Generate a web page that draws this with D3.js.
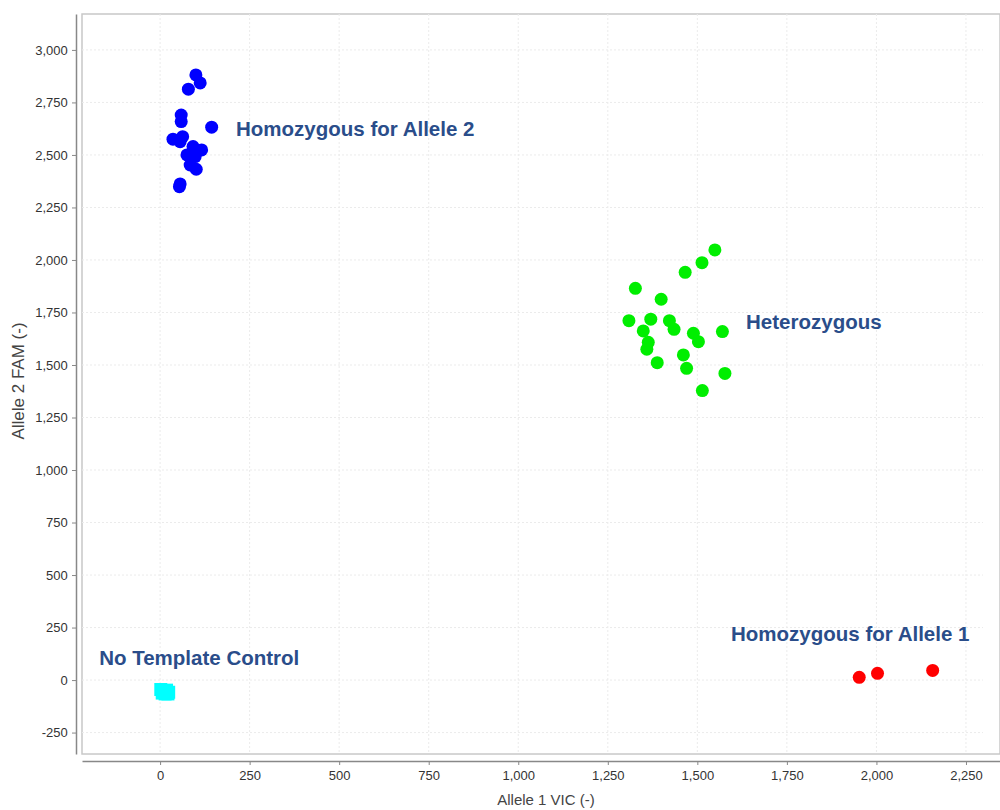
<!DOCTYPE html>
<html>
<head>
<meta charset="utf-8">
<script src="https://cdn.jsdelivr.net/npm/d3@7"></script>
<style>
  body { margin: 0; background: #fff; }
  svg { display: block; font-family: "Liberation Sans", Arial, sans-serif; }
</style>
</head>
<body>
<script>
// allele 1 (VIC) / allele 2 (FAM) readings per cluster
const allele2X = [100, 112, 79, 59, 59, 144, 36, 63, 56, 92, 116, 75, 98, 84, 101, 56, 54];
const allele2Y = [2881, 2843, 2813, 2690, 2659, 2632, 2575, 2587, 2563, 2540, 2524, 2500, 2492, 2452, 2432, 2362, 2349];

const heteroX = [1549, 1513, 1466, 1327, 1399, 1309, 1370, 1422, 1435, 1349, 1489, 1570, 1503, 1363, 1359, 1461, 1388, 1470, 1577, 1514];
const heteroY = [2048, 1987, 1941, 1865, 1813, 1711, 1718, 1711, 1670, 1662, 1651, 1659, 1611, 1608, 1575, 1548, 1511, 1484, 1460, 1378];

const allele1X = [1952, 2003, 2157];
const allele1Y = [13, 32, 46];

const ntcX = [2, 10, 18, 24, 14, 6, 22];
const ntcY = [-45, -52, -48, -58, -66, -62, -66];

const xTicks = [0, 250, 500, 750, 1000, 1250, 1500, 1750, 2000, 2250];
const yTicks = [-250, 0, 250, 500, 750, 1000, 1250, 1500, 1750, 2000, 2250, 2500, 2750, 3000];

const clusterLabels = ["Homozygous for Allele 2", "Heterozygous", "Homozygous for Allele 1", "No Template Control"];
const labelX = [212, 1636, 1594, -170];
const labelY = [2590, 1671, 186, 72];

(function chart() {
  let w = 1000, h = 810;
  let plot = { left: 82, right: 1000, top: 14, bottom: 754 };

  let svg = d3.select("body").append("svg")
    .attr("width", w)
    .attr("height", h);

  let x = d3.scaleLinear().domain([-218, 2345]).range([plot.left, plot.right]);
  let y = d3.scaleLinear().domain([-352, 3171]).range([plot.bottom, plot.top]);

  // plot background + border
  svg.append("rect")
    .attr("x", plot.left).attr("y", plot.top)
    .attr("width", plot.right - plot.left).attr("height", plot.bottom - plot.top)
    .attr("fill", "#fff")
    .attr("stroke", "#c8c8c8")
    .attr("stroke-width", 1.5);

  let grid = svg.append("g").attr("class", "grid");
  grid.selectAll("line.h")
    .data(yTicks)
    .enter().append("line")
    .attr("class", "h")
    .attr("x1", plot.left).attr("x2", 983)
    .attr("y1", d => y(d)).attr("y2", d => y(d))
    .attr("stroke", "#ebebeb")
    .attr("stroke-dasharray", "2,2");
  grid.selectAll("line.v")
    .data(xTicks)
    .enter().append("line")
    .attr("class", "v")
    .attr("y1", plot.top).attr("y2", plot.bottom)
    .attr("x1", d => x(d)).attr("x2", d => x(d))
    .attr("stroke", "#ebebeb")
    .attr("stroke-dasharray", "2,2");

  // axes, offset from plot area
  let fmt = d => d3.format(",")(d).replace("\u2212", "-");
  let xAxis = d3.axisBottom(x).tickValues(xTicks).tickSize(4).tickSizeOuter(0).tickFormat(fmt);
  let yAxis = d3.axisLeft(y).tickValues(yTicks).tickSize(4).tickSizeOuter(0).tickFormat(fmt);

  let gx = svg.append("g")
    .attr("transform", `translate(0,761)`)
    .call(xAxis);
  let gy = svg.append("g")
    .attr("transform", `translate(76,0)`)
    .call(yAxis);

  [gx, gy].forEach(g => {
    g.select(".domain").attr("stroke", "#888").attr("stroke-width", 1.5);
    g.selectAll(".tick line").attr("stroke", "#888");
    g.selectAll(".tick text")
      .attr("fill", "#333")
      .attr("font-size", 13)
      .attr("font-family", "Liberation Sans, Arial, sans-serif");
  });
  gx.selectAll(".tick text").attr("dy", "0.95em");
  gy.selectAll(".tick text").attr("dx", "-0.1em");

  svg.append("text")
    .attr("x", 546).attr("y", 805)
    .attr("text-anchor", "middle")
    .attr("font-size", 15)
    .attr("fill", "#444")
    .text("Allele 1 VIC (-)");
  svg.append("text")
    .attr("transform", "translate(24,381) rotate(-90)")
    .attr("text-anchor", "middle")
    .attr("font-size", 17)
    .attr("fill", "#444")
    .text("Allele 2 FAM (-)");

  let marks = svg.append("g").attr("class", "points");

  function dots(xs, ys, color) {
    marks.append("g")
      .selectAll("circle")
      .data(ys)
      .enter().append("circle")
      .attr("cx", (d, i) => x(xs[i]))
      .attr("cy", d => y(d))
      .attr("r", 6.5)
      .attr("fill", color);
  }
  dots(allele2X, allele2Y, "#0000ff");
  dots(heteroX, heteroY, "#00ee00");
  dots(allele1X, allele1Y, "#ff0000");

  marks.append("g")
    .selectAll("rect")
    .data(ntcY)
    .enter().append("rect")
    .attr("x", (d, i) => x(ntcX[i]) - 6.5)
    .attr("y", d => y(d) - 6.5)
    .attr("width", 13).attr("height", 13)
    .attr("fill", "#00ffff");

  svg.append("g").attr("class", "labels")
    .selectAll("text")
    .data(clusterLabels)
    .enter().append("text")
    .attr("x", (d, i) => x(labelX[i]))
    .attr("y", (d, i) => y(labelY[i]))
    .attr("font-size", 20.5)
    .attr("font-weight", "bold")
    .attr("fill", "#2a4d8a")
    .text(d => d);
})();
</script>
</body>
</html>
